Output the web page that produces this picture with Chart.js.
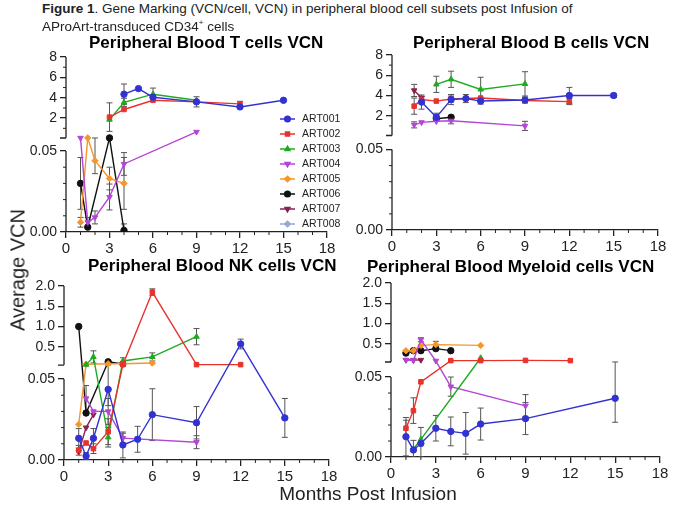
<!DOCTYPE html>
<html>
<head>
<meta charset="utf-8">
<script src="https://cdn.jsdelivr.net/npm/chart.js@4.4.0/dist/chart.umd.min.js"></script>
<style>
  body { margin: 0; background: #fff; width: 685px; height: 506px; position: relative; overflow: hidden;
         font-family: 'Liberation Sans', Arial, sans-serif; }
  canvas { position: absolute; }
  .txt { position: absolute; white-space: nowrap; color: #000; }
  .cap { font-family: 'Liberation Sans Narrow', 'Liberation Sans', Arial, sans-serif; font-size: 13.5px; color: #222; }
  .ptitle { font-weight: bold; font-size: 17px; }
  .axis { font-size: 19px; color: #222; }
</style>
</head>
<body>
<canvas id="tCells" width="333" height="215"></canvas>
<canvas id="bCells" width="338" height="215"></canvas>
<canvas id="nkCells" width="337" height="214"></canvas>
<canvas id="myCells" width="341" height="214"></canvas>

<div class="txt cap" style="left:42px;top:1px"><b>Figure 1</b>. Gene Marking (VCN/cell, VCN) in peripheral blood cell subsets post Infusion of</div>
<div class="txt cap" style="left:42px;top:18px">AProArt-transduced CD34<sup style="font-size:8px">+</sup> cells</div>
<div class="txt ptitle" style="left:89px;top:33px">Peripheral Blood T cells VCN</div>
<div class="txt ptitle" style="left:413px;top:33px">Peripheral Blood B cells VCN</div>
<div class="txt ptitle" style="left:88px;top:256px">Peripheral Blood NK cells VCN</div>
<div class="txt ptitle" style="left:367px;top:257px">Peripheral Blood Myeloid cells VCN</div>
<div class="txt axis" style="left:18px;top:270px;font-size:20px;transform:translate(-50%,-50%) rotate(-90deg)">Average VCN</div>
<div class="txt axis" style="left:368px;top:494px;transform:translate(-50%,-50%)">Months Post Infusion</div>

<script>
// sampling months shared by all panels (null = no sample)
const months = [1, 1.5, 2, 3, 4, 5, 6, 9, 12, 15];
const patients = ['ART001', 'ART002', 'ART003', 'ART004', 'ART005', 'ART006', 'ART007', 'ART008'];
const colors = ['#3232d2', '#e8322c', '#1faa1f', '#b445d6', '#f5962a', '#111111', '#8c1f4f', '#9aa6d6'];
const markers = ['circle', 'rect', 'triangle', 'triangle', 'rectRot', 'circle', 'triangle', 'rectRot'];
const rotations = [0, 0, 0, 180, 0, 0, 180, 0];

// T cells
const tArt001 = [null, null, null, null, 4.35, 4.9, 4.05, 3.6, 3.1, 3.75];
const tArt001Sd = [null, null, null, null, 1.0, null, null, 0.5, null, null];
const tArt002 = [null, null, null, 2.1, 2.85, null, 3.75, 3.6, 3.4, null];
const tArt002Sd = [null, null, null, 1.4, null, null, null, null, 0.25, null];
const tArt003 = [null, null, null, 1.85, 3.55, null, 4.35, 3.75, null, null];
const tArt003Sd = [null, null, null, null, 0.4, null, 0.6, null, null, null];
const tArt004 = [0.06, 0.006, 0.009, 0.0216, 0.042, null, null, 0.65, null, null];
const tArt004Sd = [null, 0.003, 0.004, 0.008, 0.007, null, null, null, null, null];
const tArt005 = [0.006, 0.065, 0.044, 0.033, 0.030, null, null, null, null, null];
const tArt005Sd = [0.003, null, 0.008, 0.007, 0.016, null, null, null, null, null];
const tArt006 = [0.030, 0.003, null, 0.062, 0.001, null, null, null, null, null];
const tArt006Sd = [0.016, null, null, null, 0.004, null, null, null, null, null];

// B cells
const bArt001 = [null, null, 3.35, 1.85, 3.6, 3.7, 3.45, 3.55, 4.0, 4.0];
const bArt001Sd = [null, null, 0.7, 0.4, 0.5, 0.4, 0.3, 0.3, 0.8, 0.2];
const bArt002 = [null, 2.95, 3.6, 3.45, 3.65, null, 3.75, 3.5, 3.4, null];
const bArt002Sd = [null, 0.8, 0.3, null, 0.3, null, null, null, 0.3, null];
const bArt003 = [null, null, null, 5.1, 5.6, null, 4.6, 5.15, null, null];
const bArt003Sd = [null, null, null, 0.8, 0.8, null, 1.2, 1.2, null, null];
const bArt004 = [null, 1.1, 1.35, 1.45, 1.5, null, null, 1.0, null, null];
const bArt004Sd = [null, 0.3, null, null, 0.3, null, null, 0.45, null, null];
const bArt006 = [null, null, null, 1.7, 1.85, null, null, null, null, null];
const bArt007 = [null, 4.5, 3.77, null, null, null, null, null, null, null];
const bArt007Sd = [null, 0.6, null, null, null, null, null, null, null, null];

// NK cells
const nkArt001 = [0.0134, 0.0025, 0.0134, 0.0436, 0.0093, 0.0128, 0.028, 0.023, 0.57, 0.026];
const nkArt001Sd = [0.006, 0.002, 0.006, 0.01, 0.008, 0.008, 0.016, 0.01, 0.12, 0.012];
const nkArt002 = [0.006, 0.0105, 0.007, 0.0175, 0.06, null, 1.85, 0.06, 0.06, null];
const nkArt002Sd = [0.003, null, 0.003, 0.008, null, null, 0.08, null, null, null];
const nkArt003 = [null, 0.06, 0.25, 0.014, 0.15, null, 0.25, 0.75, null, null];
const nkArt003Sd = [null, null, 0.15, 0.006, 0.08, null, 0.1, 0.2, null, null];
const nkArt004 = [null, 0.038, 0.03, 0.03, 0.0135, null, null, 0.011, null, null];
const nkArt004Sd = [null, 0.008, null, 0.008, 0.003, null, null, 0.004, null, null];
const nkArt005 = [0.022, 0.07, null, 0.08, 0.08, null, 0.1, null, null, null];
const nkArt006 = [1.0, 0.029, null, 0.13, 0.08, null, null, null, null, null];
const nkArt007 = [0.005, 0.02, 0.028, null, null, null, null, null, null, null];

// Myeloid cells
const myArt001 = [0.0127, 0.0044, 0.0085, 0.018, 0.016, 0.0148, 0.0206, 0.024, null, 0.0367];
const myArt001Sd = [0.012, 0.006, 0.01, 0.008, 0.009, 0.013, 0.01, 0.01, null, 0.015];
const myArt002 = [0.018, 0.029, 0.047, null, 0.085, null, 0.085, 0.09, 0.085, null];
const myArt002Sd = [0.005, 0.008, null, null, null, null, null, null, null, null];
const myArt003 = [null, 0.005, 0.011, null, null, null, 0.15, null, null, null];
const myArt004 = [0.1, 0.09, 0.6, 0.08, 0.044, null, null, 0.032, null, null];
const myArt004Sd = [null, null, 0.05, null, 0.006, null, null, 0.007, null, null];
const myArt005 = [0.33, 0.33, 0.46, 0.48, null, null, 0.46, null, null, null];
const myArt005Sd = [null, null, null, 0.08, null, null, null, null, null, null];
const myArt006 = [0.27, 0.33, 0.33, 0.38, 0.33, null, null, null, null, null];
const myArt007 = [0.1, 0.1, 0.1, null, null, null, null, null, null, null];

// y axis with a break at 0.05: lower part 0-0.05, upper part 0.05-max
class BrokenScale extends Chart.LinearScale {
  seg() {
    const b = this.options.brk;
    const lowH = (this.bottom - this.top - b.gap) * b.lowFrac;
    const lowTop = this.bottom - lowH;
    return { lowH, lowTop, upBot: lowTop - b.gap };
  }
  getPixelForValue(v) {
    const b = this.options.brk, s = this.seg();
    if (v <= b.cut) return this.bottom - (v / b.cut) * s.lowH;
    return s.upBot - (v - b.cut) / (b.max - b.cut) * (s.upBot - this.top);
  }
  getValueForPixel(p) {
    const b = this.options.brk, s = this.seg();
    if (p >= s.lowTop) return (this.bottom - p) / s.lowH * b.cut;
    return b.cut + (s.upBot - p) / (s.upBot - this.top) * (b.max - b.cut);
  }
}
BrokenScale.id = 'broken';
BrokenScale.defaults = Chart.LinearScale.defaults;
Chart.register(BrokenScale);

const errorBars = {
  id: 'errorBars',
  beforeDatasetsDraw(chart) {
    const { ctx, chartArea: a, scales: { x, y } } = chart;
    ctx.save();
    ctx.beginPath();
    ctx.rect(a.left, a.top - 2, a.right - a.left, a.bottom - a.top + 2);
    ctx.clip();
    ctx.strokeStyle = '#555';
    ctx.lineWidth = 1;
    chart.data.datasets.forEach(ds => {
      ds.data.forEach((p, i) => {
        const e = ds.errs[i];
        if (!e) return;
        const px = x.getPixelForValue(p.x);
        const y1 = y.getPixelForValue(p.y + e);
        const y2 = y.getPixelForValue(Math.max(0, p.y - e));
        ctx.beginPath();
        ctx.moveTo(px, y1); ctx.lineTo(px, y2);
        ctx.moveTo(px - 3, y1); ctx.lineTo(px + 3, y1);
        ctx.moveTo(px - 3, y2); ctx.lineTo(px + 3, y2);
        ctx.stroke();
      });
    });
    ctx.restore();
  }
};

const brokenAxis = {
  id: 'brokenAxis',
  afterDraw(chart, args, opts) {
    const { ctx, scales: { x, y } } = chart;
    const s = y.seg(), left = chart.chartArea.left;
    ctx.save();
    ctx.strokeStyle = '#222';
    ctx.lineWidth = 1.3;
    ctx.beginPath();
    ctx.moveTo(left, y.top); ctx.lineTo(left, s.upBot);
    ctx.moveTo(left - 6, s.upBot); ctx.lineTo(left, s.upBot);
    ctx.moveTo(left, s.lowTop); ctx.lineTo(left, y.bottom);
    ctx.stroke();
    ctx.lineWidth = 1;
    ctx.beginPath();
    opts.yMinor.forEach(v => {
      const py = y.getPixelForValue(v);
      ctx.moveTo(left - 3, py); ctx.lineTo(left, py);
    });
    for (let m = 1; m < 18; m++) {
      if (m % 3 === 0) continue;
      const px = x.getPixelForValue(m);
      ctx.moveTo(px, x.top); ctx.lineTo(px, x.top + 3);
    }
    ctx.stroke();
    ctx.restore();
  }
};

const legendBox = {
  id: 'legendBox',
  afterDraw(chart, args, opts) {
    if (!opts.show) return;
    const ctx = chart.ctx;
    const ox = chart.canvas.offsetLeft, oy = chart.canvas.offsetTop;
    ctx.save();
    ctx.font = '10.5px "Liberation Sans", Arial, sans-serif';
    ctx.textBaseline = 'middle';
    patients.forEach((name, i) => {
      const yy = opts.y + i * 15 - oy, xx = opts.x - ox;
      ctx.strokeStyle = colors[i];
      ctx.fillStyle = colors[i];
      ctx.lineWidth = 1.5;
      ctx.beginPath(); ctx.moveTo(xx, yy); ctx.lineTo(xx + 15, yy); ctx.stroke();
      Chart.helpers.drawPoint(ctx, { pointStyle: markers[i], rotation: rotations[i], radius: 2.8, borderWidth: 1 }, xx + 7.5, yy);
      ctx.fillStyle = '#222';
      ctx.fillText(name, xx + 22, yy + 0.5);
    });
    ctx.restore();
  }
};

function buildSets(rows) {
  return rows.map(([idx, vals, sds]) => {
    const pts = [], errs = [];
    months.forEach((m, i) => {
      if (vals[i] == null) return;
      pts.push({ x: m, y: vals[i] });
      errs.push(sds ? sds[i] : null);
    });
    return {
      label: patients[idx],
      data: pts,
      errs: errs,
      borderColor: colors[idx],
      backgroundColor: colors[idx],
      pointStyle: markers[idx],
      pointRotation: rotations[idx],
      pointRadius: 3.2,
      pointBorderWidth: 1,
      borderWidth: 1.4,
      tension: 0
    };
  });
}

function makePanel(id, left, top, sets, brk, upperTicks, yMinor, legend) {
  const el = document.getElementById(id);
  el.style.left = left + 'px';
  el.style.top = top + 'px';
  const tickFont = { family: "'Liberation Sans', Arial, sans-serif", size: 14 };
  return new Chart(el, {
    type: 'line',
    data: { datasets: sets },
    options: {
      responsive: false,
      animation: false,
      events: [],
      layout: { padding: { left: 0, right: 16, top: 14, bottom: 0 } },
      plugins: {
        legend: { display: false },
        tooltip: { enabled: false },
        brokenAxis: { yMinor: yMinor },
        legendBox: legend || { show: false }
      },
      scales: {
        x: {
          type: 'linear', min: 0, max: 18,
          ticks: { stepSize: 3, color: '#222', padding: 2, font: { ...tickFont, size: 15 } },
          grid: { drawOnChartArea: false, tickLength: 6, color: '#222', lineWidth: 1.3 },
          border: { color: '#222', width: 1.3 },
          afterFit: s => { s.height = 26; }
        },
        y: {
          type: 'broken', min: 0, max: brk.max,
          brk: brk,
          afterBuildTicks: s => { s.ticks = [0, brk.cut].concat(upperTicks).map(v => ({ value: v })); },
          ticks: {
            autoSkip: false, color: '#222', padding: 3, font: tickFont,
            callback: v => v <= brk.cut ? v.toFixed(2) : (brk.max > 2 ? String(v) : v.toFixed(1))
          },
          grid: { drawOnChartArea: false, tickLength: 6, color: '#222', lineWidth: 1.3 },
          border: { display: false },
          afterFit: s => { s.width = 56; }
        }
      }
    },
    plugins: [errorBars, brokenAxis, legendBox]
  });
}

const lowMinor = [0.01, 0.02, 0.03, 0.04];

makePanel('tCells', 10, 43, buildSets([
  [0, tArt001, tArt001Sd], [1, tArt002, tArt002Sd], [2, tArt003, tArt003Sd],
  [3, tArt004, tArt004Sd], [4, tArt005, tArt005Sd], [5, tArt006, tArt006Sd]
]), { cut: 0.05, max: 8, gap: 13, lowFrac: 0.5 }, [2, 4, 6, 8], lowMinor.concat([1, 3, 5, 7]),
  { show: true, x: 280, y: 119 });

makePanel('bCells', 336, 41, buildSets([
  [0, bArt001, bArt001Sd], [1, bArt002, bArt002Sd], [2, bArt003, bArt003Sd],
  [3, bArt004, bArt004Sd], [5, bArt006, null], [6, bArt007, bArt007Sd]
]), { cut: 0.05, max: 8, gap: 14, lowFrac: 0.5 }, [2, 4, 6, 8], lowMinor.concat([1, 3, 5, 7]));

makePanel('nkCells', 8, 272, buildSets([
  [0, nkArt001, nkArt001Sd], [1, nkArt002, nkArt002Sd], [2, nkArt003, nkArt003Sd],
  [3, nkArt004, nkArt004Sd], [4, nkArt005, null], [5, nkArt006, null], [6, nkArt007, null]
]), { cut: 0.05, max: 2, gap: 14, lowFrac: 0.506 }, [0.5, 1.0, 1.5, 2.0], lowMinor);

makePanel('myCells', 335, 269, buildSets([
  [0, myArt001, myArt001Sd], [1, myArt002, myArt002Sd], [2, myArt003, null],
  [3, myArt004, myArt004Sd], [4, myArt005, myArt005Sd], [5, myArt006, null], [6, myArt007, null]
]), { cut: 0.05, max: 2, gap: 15, lowFrac: 0.503 }, [0.5, 1.0, 1.5, 2.0], lowMinor);
</script>
</body>
</html>
